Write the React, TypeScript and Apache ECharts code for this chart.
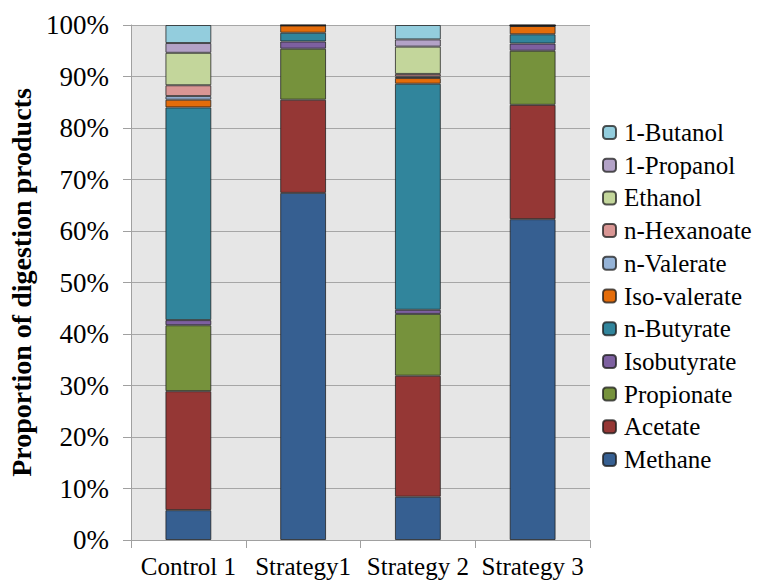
import React, { useEffect, useRef } from "react";
import * as echarts from "echarts";

const categories = ["Control 1", "Strategy1", "Strategy 2", "Strategy 3"];
const seriesNames = [
  "Methane",
  "Acetate",
  "Propionate",
  "Isobutyrate",
  "n-Butyrate",
  "Iso-valerate",
  "n-Valerate",
  "n-Hexanoate",
  "Ethanol",
  "1-Propanol",
  "1-Butanol",
];
const methane = [5.8, 67.4, 8.4, 62.3];
const acetate = [23.1, 18.1, 23.5, 22.2];
const propionate = [12.8, 9.9, 12.0, 10.5];
const isobutyrate = [1.0, 1.4, 0.8, 1.4];
const nButyrate = [41.3, 1.7, 43.9, 1.8];
const isoValerate = [1.5, 1.4, 1.1, 1.6];
const nValerate = [0.7, 0.05, 0.3, 0.05];
const nHexanoate = [2.1, 0.05, 0.5, 0.05];
const ethanol = [6.3, 0.05, 5.3, 0.05];
const propanol = [1.9, 0.05, 1.4, 0.05];
const butanol = [3.5, 0.1, 2.8, 0.1];
const seriesValues = [
  methane,
  acetate,
  propionate,
  isobutyrate,
  nButyrate,
  isoValerate,
  nValerate,
  nHexanoate,
  ethanol,
  propanol,
  butanol,
];
const colors = [
  "#365f91",
  "#953735",
  "#76923c",
  "#7d60a0",
  "#31859c",
  "#e46c0a",
  "#95b3d7",
  "#d99694",
  "#c3d69b",
  "#b3a2c7",
  "#93cddd",
];
const yTicks = [0, 10, 20, 30, 40, 50, 60, 70, 80, 90, 100];

const FONT = "Liberation Serif";

export default function App() {
  const ref = useRef<HTMLDivElement>(null);
  useEffect(() => {
    const chart = echarts.init(ref.current!, null, { renderer: "svg" });
    chart.setOption({
      animation: false,
      backgroundColor: "#ffffff",
      textStyle: { fontFamily: FONT },
      grid: {
        left: 123,
        right: 178,
        top: 17,
        bottom: 54,
        show: true,
        backgroundColor: "#e6e6e6",
        borderWidth: 0,
        containLabel: false,
        outerBoundsMode: "none",
      },
      legend: {
        orient: "vertical",
        left: 589,
        top: 107,
        itemWidth: 13,
        itemHeight: 13,
        itemGap: 7.7,
        data: [...seriesNames].reverse(),
        textStyle: {
          fontFamily: FONT,
          fontSize: 25,
          color: "#000",
          lineHeight: 25,
          padding: [0, 0, 0, 3],
        },
      },
      xAxis: {
        type: "category",
        data: categories,
        axisLine: { show: true, lineStyle: { color: "#a0a0a0", width: 1 } },
        axisTick: { show: true, length: 8, lineStyle: { color: "#a0a0a0" } },
        axisLabel: {
          interval: 0,
          hideOverlap: false,
          fontFamily: FONT,
          fontSize: 25,
          color: "#000",
          margin: 14,
        },
      },
      yAxis: {
        type: "value",
        min: 0,
        max: 100,
        interval: 10,
        name: "Proportion of digestion products",
        nameLocation: "middle",
        nameGap: 88,
        nameTextStyle: {
          fontFamily: FONT,
          fontSize: 28,
          fontWeight: "bold",
          color: "#000",
        },
        axisLine: { show: true, lineStyle: { color: "#a0a0a0", width: 1 } },
        axisTick: { show: true, length: 8, lineStyle: { color: "#a0a0a0" } },
        splitLine: { show: true, lineStyle: { color: "#a6a6a6", width: 1 } },
        axisLabel: {
          fontFamily: FONT,
          fontSize: 27,
          color: "#000",
          margin: 22,
          formatter: (v: number) => (yTicks.includes(v) ? v + "%" : ""),
        },
      },
      series: seriesNames.map((name, i) => ({
        name,
        type: "bar",
        stack: "total",
        barWidth: "40%",
        data: seriesValues[i],
        itemStyle: {
          color: colors[i],
          borderColor: "rgba(30,30,30,0.75)",
          borderWidth: 1,
        },
      })),
    });
    return () => chart.dispose();
  }, []);
  return <div ref={ref} style={{ width: 760, height: 586 }} />;
}
